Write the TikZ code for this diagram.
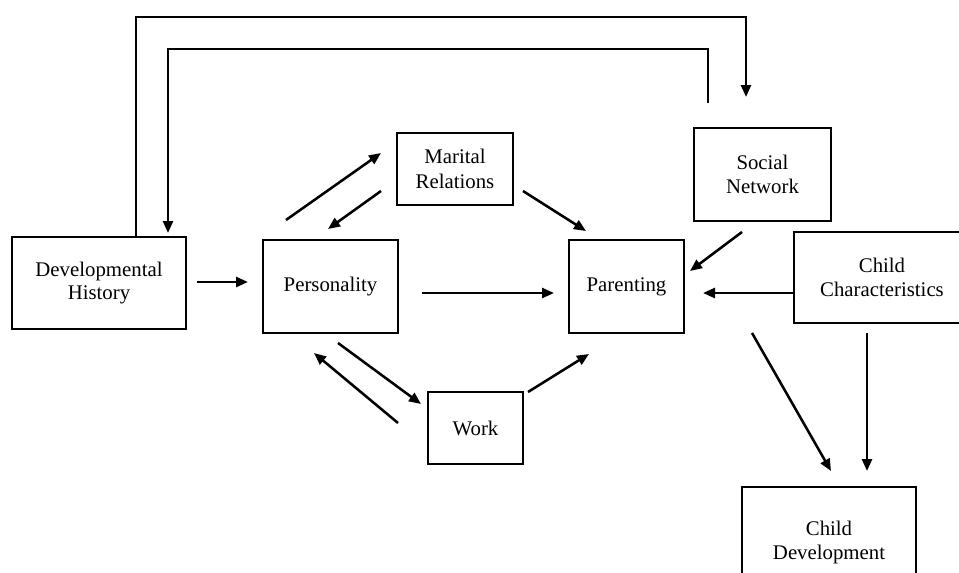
\documentclass[tikz,border=0pt]{standalone}
\usepackage{fontspec}
\setmainfont{Liberation Serif}
\usetikzlibrary{arrows.meta}
\begin{document}
\begin{tikzpicture}[x=0.75pt,y=-0.75pt,
  box/.style={draw,line width=2.2pt,inner sep=0pt,align=center,
    font=\fontsize{15.6}{18.5}\selectfont},
  conn/.style={line width=1.9pt,-{Triangle[length=9pt,width=7.5pt]}}]
\useasboundingbox (0,0) rectangle (959,572);
\clip (0,0) rectangle (959,572);
\fill[white] (0,0) rectangle (959,572);
% boxes
\node[box,minimum width=130.5pt,minimum height=69pt] (dev) at (99,283) {\raisebox{-2pt}{\begin{tabular}{@{}c@{}}Developmental\\[-1pt]History\end{tabular}}};
\node[box,minimum width=101.25pt,minimum height=69.75pt] (pers) at (330.5,286.5) {Personality};
\node[box,minimum width=87pt,minimum height=54pt] (mar) at (455,169) {Marital\\Relations};
\node[box,minimum width=71.25pt,minimum height=54pt] (work) at (475.5,428) {Work};
\node[box,minimum width=86.25pt,minimum height=69.75pt] (par) at (626.5,286.5) {Parenting};
\node[box,minimum width=102.75pt,minimum height=69.75pt] (sn) at (762.5,174.5) {Social\\Network};
\node[box,minimum width=132pt,minimum height=68.25pt] (cc) at (882,277.5) {Child\\Characteristics};
\node[box,minimum width=130.5pt,minimum height=83.25pt] (cd) at (829,542.5) {Child\\Development};
% connector end points
\coordinate (o1) at (136,237); \coordinate (o2) at (746,97);
\coordinate (i1) at (708,103); \coordinate (i2) at (168,233);
\coordinate (a1) at (197,282); \coordinate (a2) at (248,282);
\coordinate (b1) at (422,293); \coordinate (b2) at (554,293);
\coordinate (c1) at (794,293); \coordinate (c2) at (703,293);
\coordinate (d1) at (286,220); \coordinate (d2) at (381,153);
\coordinate (e1) at (381,191); \coordinate (e2) at (328,229);
\coordinate (f1) at (523,191); \coordinate (f2) at (586,231);
\coordinate (g1) at (742,232); \coordinate (g2) at (690,271);
\coordinate (h1) at (338,343); \coordinate (h2) at (421,404);
\coordinate (j1) at (398,423); \coordinate (j2) at (314,353);
\coordinate (k1) at (528,392); \coordinate (k2) at (589,354);
\coordinate (l1) at (752,333); \coordinate (l2) at (831,471);
\coordinate (m1) at (867,333); \coordinate (m2) at (867,471);
% connectors
\draw[conn] (o1) |- (746,17) -- (o2);
\draw[conn] (i1) |- (168,49) -- (i2);
\draw[conn] (a1) -- (a2);
\draw[conn] (b1) -- (b2);
\draw[conn] (c1) -- (c2);
\draw[conn] (d1) -- (d2);
\draw[conn] (e1) -- (e2);
\draw[conn] (f1) -- (f2);
\draw[conn] (g1) -- (g2);
\draw[conn] (h1) -- (h2);
\draw[conn] (j1) -- (j2);
\draw[conn] (k1) -- (k2);
\draw[conn] (l1) -- (l2);
\draw[conn] (m1) -- (m2);
\end{tikzpicture}
\end{document}
